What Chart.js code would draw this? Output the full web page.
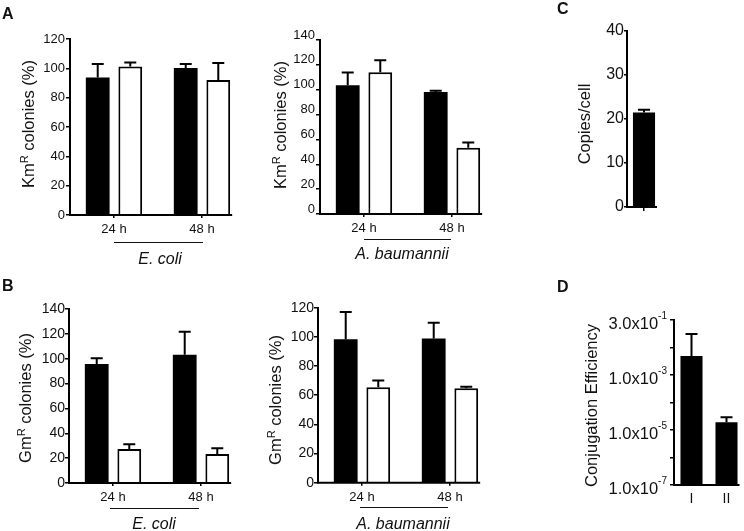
<!DOCTYPE html>
<html><head><meta charset="utf-8">
<script src="https://cdn.jsdelivr.net/npm/chart.js@4.4.0/dist/chart.umd.min.js"></script>
<style>
html,body{margin:0;padding:0;background:#fff;}
#wrap{position:relative;width:744px;height:531px;overflow:hidden;font-family:'Liberation Sans',Arial,sans-serif;color:#111;background:#fff;}
canvas{position:absolute;}
.lt{position:absolute;font-weight:bold;font-size:16px;line-height:1;}
.sp{position:absolute;font-style:italic;font-size:16px;line-height:1;transform:translate(-50%,-50%);white-space:nowrap;}
.ul{position:absolute;height:0;border-top:1.5px solid #111;}
</style></head>
<body><div id="wrap">
<canvas id="cA1"></canvas><canvas id="cA2"></canvas><canvas id="cC"></canvas>
<canvas id="cB1"></canvas><canvas id="cB2"></canvas><canvas id="cD"></canvas>
<div class="lt" style="left:2px;top:5.5px">A</div>
<div class="lt" style="left:2px;top:278px">B</div>
<div class="lt" style="left:557px;top:0.5px">C</div>
<div class="lt" style="left:557px;top:279px">D</div>
<div class="ul" style="left:114px;top:242px;width:89px"></div>
<div class="sp" style="left:160px;top:259px">E. coli</div>
<div class="ul" style="left:364px;top:239px;width:87px"></div>
<div class="sp" style="left:402px;top:254px">A. baumannii</div>
<div class="ul" style="left:110px;top:508px;width:89px"></div>
<div class="sp" style="left:154px;top:523.5px">E. coli</div>
<div class="ul" style="left:360px;top:506.5px;width:88px"></div>
<div class="sp" style="left:403px;top:523.5px">A. baumannii</div>
</div>
<script>
// ---- data ----
const timeLabels = ['24 h', '48 h'];
// Panel A, E. coli (KmR colonies %)
const aEcoliBlack = [93.8, 100.2];
const aEcoliBlackErr = [9.1, 2.7];
const aEcoliWhite = [101.3, 92.0];
const aEcoliWhiteErr = [2.7, 11.6];
const aEcoliYMax = 120;
// Panel A, A. baumannii (KmR colonies %)
const aAbauBlack = [103.6, 98.2];
const aAbauBlackErr = [10.3, 1.0];
const aAbauWhite = [114.1, 53.3];
const aAbauWhiteErr = [9.7, 4.3];
const aAbauYMax = 140;
// Panel B, E. coli (GmR colonies %)
const bEcoliBlack = [95.7, 103.2];
const bEcoliBlackErr = [4.6, 18.5];
const bEcoliWhite = [27.4, 23.3];
const bEcoliWhiteErr = [3.7, 4.6];
const bEcoliYMax = 140;
// Panel B, A. baumannii (GmR colonies %)
const bAbauBlack = [98.3, 98.8];
const bAbauBlackErr = [18.8, 10.9];
const bAbauWhite = [65.4, 64.7];
const bAbauWhiteErr = [4.6, 1.1];
const bAbauYMax = 120;
// Panel C
const cLabels = [''];
const cCopies = [21.5];
const cCopiesErr = [0.6];
const cYMax = 40;
// Panel D
const dLabels = ['I', 'II'];
const dEff = [4.9e-3, 1.9e-5];
const dEffErr = [2.6e-2, 1.0e-5];
const dTickValues = [1e-7, 1e-6, 1e-5, 1e-4, 1e-3, 1e-2, 1e-1];
const dTickBase = ['1.0x10', '', '1.0x10', '', '1.0x10', '', '3.0x10'];
const dTickExp = ['-7', '', '-5', '', '-3', '', '-1'];
// axis titles
const kmTitle = [{t: 'Km'}, {t: 'R', sup: true}, {t: ' colonies (%)'}];
const gmTitle = [{t: 'Gm'}, {t: 'R', sup: true}, {t: ' colonies (%)'}];
const cTitle = [{t: 'Copies/cell'}];
const dTitle = [{t: 'Conjugation Efficiency'}];

const FONT = "'Liberation Sans', Arial, sans-serif";
const INK = '#111';

const errorBarPlugin = {
  id: 'errbars',
  afterDatasetsDraw(chart) {
    const ctx = chart.ctx, ys = chart.scales.y;
    chart.data.datasets.forEach((ds, i) => {
      if (!ds.errors) return;
      const meta = chart.getDatasetMeta(i);
      meta.data.forEach((el, j) => {
        const v = ds.data[j], e = ds.errors[j];
        if (v == null || e == null) return;
        const yt = ys.getPixelForValue(v + e);
        ctx.save();
        ctx.strokeStyle = '#000'; ctx.lineWidth = 2;
        ctx.beginPath();
        ctx.moveTo(el.x, el.y); ctx.lineTo(el.x, yt);
        ctx.moveTo(el.x - 6, yt); ctx.lineTo(el.x + 6, yt);
        ctx.stroke();
        ctx.restore();
      });
    });
  }
};
const baselinePlugin = {
  id: 'baseline',
  afterDatasetsDraw(chart) {
    let maxR = chart.chartArea.left;
    chart.data.datasets.forEach((ds, i) => {
      chart.getDatasetMeta(i).data.forEach(el => { maxR = Math.max(maxR, el.x + el.width / 2); });
    });
    const ctx = chart.ctx, y = chart.chartArea.bottom;
    ctx.save(); ctx.strokeStyle = '#000'; ctx.lineWidth = 2;
    ctx.beginPath(); ctx.moveTo(chart.chartArea.left - 1, y); ctx.lineTo(maxR + 2, y); ctx.stroke();
    ctx.restore();
  }
};
function titlePlugin(parts, bx, cy) {
  return {
    id: 'ytitle',
    afterDraw(chart) {
      const ctx = chart.ctx;
      ctx.save();
      ctx.translate(bx, cy);
      ctx.rotate(-Math.PI / 2);
      ctx.fillStyle = INK;
      ctx.textBaseline = 'alphabetic';
      ctx.textAlign = 'left';
      const fontOf = p => (p.sup ? '11px ' : '16.5px ') + FONT;
      const widths = parts.map(p => { ctx.font = fontOf(p); return ctx.measureText(p.t).width; });
      let x = -widths.reduce((a, b) => a + b, 0) / 2;
      parts.forEach((p, i) => {
        ctx.font = fontOf(p);
        ctx.fillText(p.t, x, p.sup ? -6 : 0);
        x += widths[i];
      });
      ctx.restore();
    }
  };
}
// superscript tick labels for the log axis of panel D
const supTickPlugin = {
  id: 'supticks',
  afterDraw(chart) {
    const s = chart.scales.y, ctx = chart.ctx;
    const xr = chart.chartArea.left - 7;
    ctx.save();
    ctx.fillStyle = INK;
    ctx.textBaseline = 'alphabetic';
    ctx.textAlign = 'right';
    dTickValues.forEach((v, i) => {
      if (!dTickBase[i]) return;
      const y = s.getPixelForValue(v);
      ctx.font = '10px ' + FONT;
      const ew = ctx.measureText(dTickExp[i]).width;
      ctx.fillText(dTickExp[i], xr, y - 1.5);
      ctx.font = '16.5px ' + FONT;
      ctx.fillText(dTickBase[i], xr - ew, y + 8.5);
    });
    ctx.restore();
  }
};

function makeChart(id, g, cfg) {
  const canvas = document.getElementById(id);
  canvas.width = g.cw; canvas.height = g.ch;
  canvas.style.left = g.cx + 'px'; canvas.style.top = g.cy + 'px';
  const padLeft = g.titleX - g.cx;
  const yW = g.L - g.titleX;
  const xH = 30;
  const padTop = g.T - g.cy;
  const padRight = g.cx + g.cw - g.R;
  const padBottom = g.cy + g.ch - g.B - xH;
  const y = Object.assign({
    grid: {drawOnChartArea: false, tickLength: cfg.yTick, color: '#000', lineWidth: 1.5},
    border: {display: true, color: '#000', width: 2},
    title: {display: false},
    afterFit(s) { s.width = yW; }
  }, cfg.y);
  y.ticks = Object.assign({font: {family: FONT, size: cfg.yFont}, color: INK, padding: cfg.yPad, labelOffset: cfg.yOff || 0}, cfg.y.ticks || {});
  const plugins = [errorBarPlugin, baselinePlugin, titlePlugin(cfg.title, g.tBase - g.cx, g.tMid - g.cy)];
  if (cfg.extra) plugins.push(cfg.extra);
  return new Chart(canvas, {
    type: 'bar',
    data: {labels: cfg.labels, datasets: cfg.datasets},
    options: {
      responsive: false, animation: false, devicePixelRatio: 1,
      layout: {padding: {left: padLeft, top: padTop, right: padRight, bottom: padBottom}},
      plugins: {legend: {display: false}, tooltip: {enabled: false}},
      scales: {
        x: {
          offset: true,
          grid: {display: true, drawOnChartArea: false, offset: false, drawTicks: cfg.xTick > 0, tickLength: cfg.xTick, color: '#000', lineWidth: 1.5},
          border: {display: false},
          ticks: {font: {family: FONT, size: cfg.xFont}, color: INK, padding: cfg.xPad, maxRotation: 0, autoSkip: false},
          afterFit(s) { s.height = xH; }
        },
        y: y
      }
    },
    plugins: plugins
  });
}

function pair(black, blackErr, white, whiteErr) {
  return [
    {data: black, errors: blackErr, backgroundColor: '#000', borderWidth: 0, categoryPercentage: 0.74, barPercentage: 0.73},
    {data: white, errors: whiteErr, backgroundColor: '#fff', borderColor: '#000', borderWidth: 2, borderSkipped: 'start', categoryPercentage: 0.74, barPercentage: 0.73}
  ];
}

makeChart('cA1', {cx: 0, cy: 20, cw: 255, ch: 225, L: 70, T: 39, R: 246, B: 215, titleX: 36, tBase: 34.3, tMid: 124},
  {labels: timeLabels, datasets: pair(aEcoliBlack, aEcoliBlackErr, aEcoliWhite, aEcoliWhiteErr),
   title: kmTitle, yFont: 13, yPad: 1, yTick: 4, xFont: 13, xPad: 4, xTick: 3,
   y: {min: 0, max: aEcoliYMax, ticks: {stepSize: 20}}});

makeChart('cA2', {cx: 255, cy: 20, cw: 250, ch: 225, L: 320, T: 40, R: 496, B: 214, titleX: 288, tBase: 286, tMid: 125},
  {labels: timeLabels, datasets: pair(aAbauBlack, aAbauBlackErr, aAbauWhite, aAbauWhiteErr),
   title: kmTitle, yFont: 13, yPad: 1, yTick: 4, yOff: -5, xFont: 13, xPad: 4, xTick: 3,
   y: {min: 0, max: aAbauYMax, ticks: {stepSize: 20}}});

makeChart('cC', {cx: 540, cy: 10, cw: 200, ch: 240, L: 627, T: 31, R: 661, B: 207, titleX: 592, tBase: 590.3, tMid: 124},
  {labels: cLabels, datasets: [{data: cCopies, errors: cCopiesErr, backgroundColor: '#000', borderWidth: 0, categoryPercentage: 1, barPercentage: 0.65}],
   title: cTitle, yFont: 16, yPad: 0, yTick: 3, xFont: 13, xPad: 4, xTick: 4,
   y: {min: 0, max: cYMax, ticks: {stepSize: 10}}});

makeChart('cB1', {cx: 0, cy: 290, cw: 255, ch: 241, L: 69, T: 309, R: 245, B: 483, titleX: 32, tBase: 30.5, tMid: 398},
  {labels: timeLabels, datasets: pair(bEcoliBlack, bEcoliBlackErr, bEcoliWhite, bEcoliWhiteErr),
   title: gmTitle, yFont: 14, yPad: 0, yTick: 4, xFont: 13, xPad: 4, xTick: 3,
   y: {min: 0, max: bEcoliYMax, ticks: {stepSize: 20}}});

makeChart('cB2', {cx: 255, cy: 290, cw: 250, ch: 241, L: 318, T: 307.7, R: 494, B: 482.7, titleX: 283, tBase: 281, tMid: 400},
  {labels: timeLabels, datasets: pair(bAbauBlack, bAbauBlackErr, bAbauWhite, bAbauWhiteErr),
   title: gmTitle, yFont: 14, yPad: 0, yTick: 4, xFont: 13, xPad: 4, xTick: 3,
   y: {min: 0, max: bAbauYMax, ticks: {stepSize: 20}}});

makeChart('cD', {cx: 540, cy: 290, cw: 204, ch: 241, L: 674, T: 320, R: 744, B: 485, titleX: 599, tBase: 597.3, tMid: 405.5},
  {labels: dLabels, datasets: [{data: dEff, errors: dEffErr, backgroundColor: '#000', borderWidth: 0, categoryPercentage: 1, barPercentage: 0.63}],
   title: dTitle, yFont: 16, yPad: 3, yTick: 4, xFont: 14, xPad: 6, xTick: 0, extra: supTickPlugin,
   y: {type: 'logarithmic', min: 1e-7, max: 1e-1,
       afterBuildTicks(s) { s.ticks = dTickValues.map(v => ({value: v})); },
       ticks: {callback: () => ''}}});
</script>
</body></html>
